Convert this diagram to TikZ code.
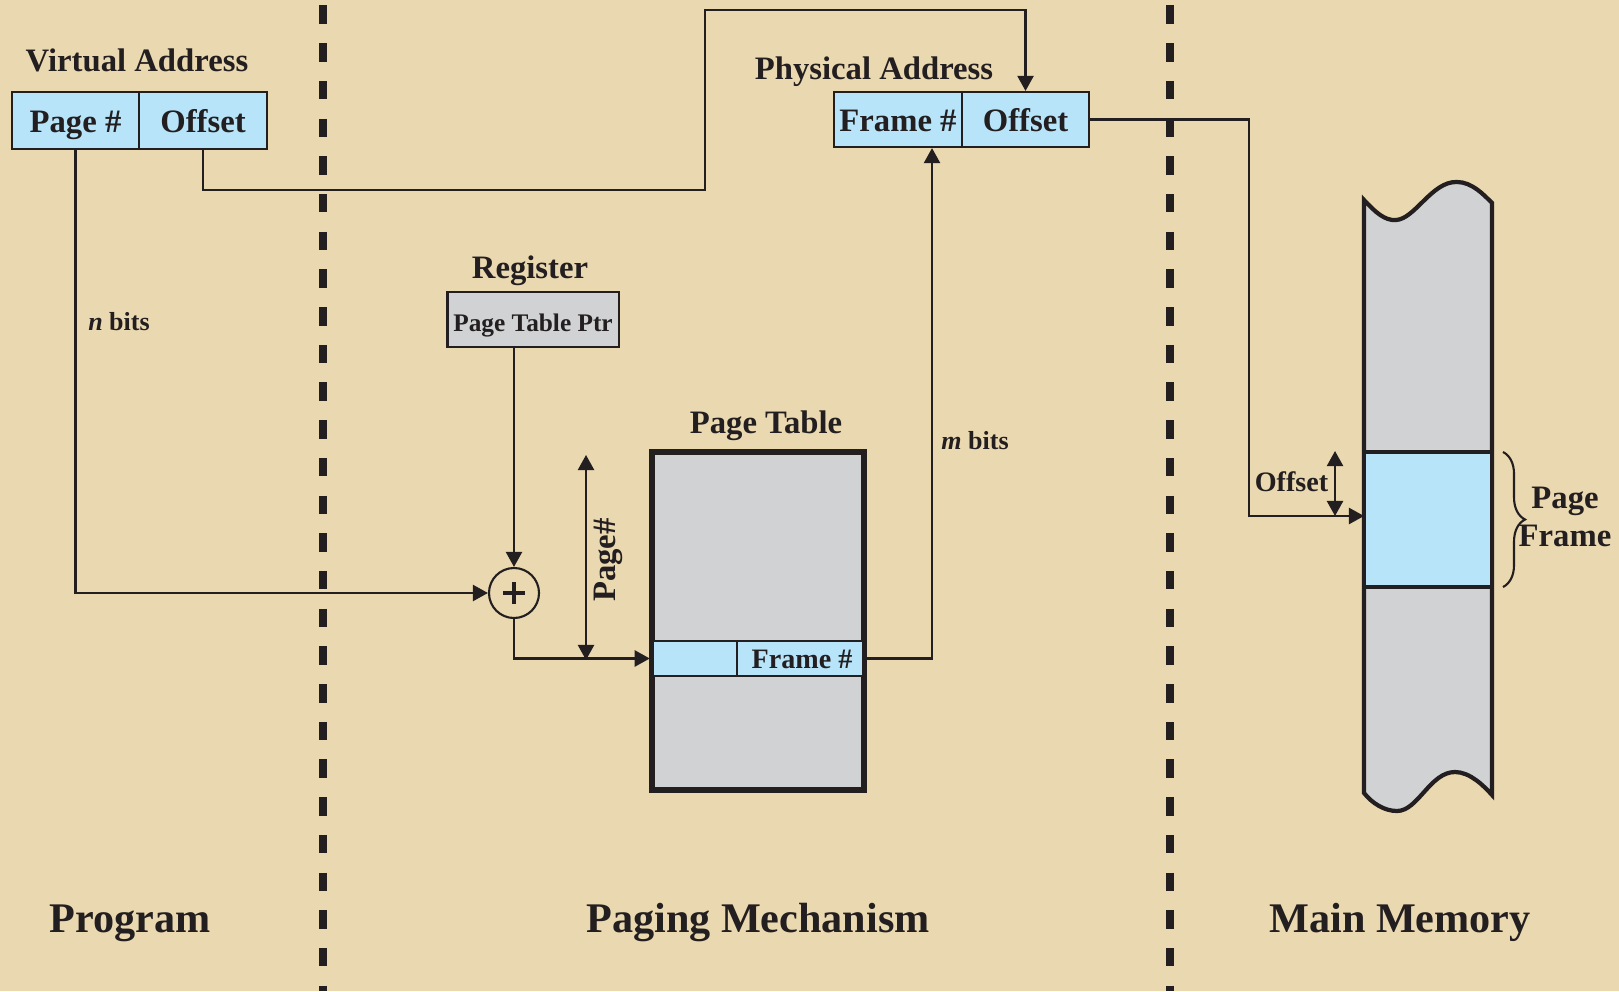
\documentclass[tikz,border=0pt]{standalone}
\usepackage{fontspec}
\setmainfont{Liberation Serif}
\usetikzlibrary{arrows.meta,decorations.pathreplacing,calc}
\definecolor{bg}{RGB}{234,216,176}
\definecolor{boxblue}{RGB}{183,228,249}
\definecolor{boxgray}{RGB}{209,210,212}
\definecolor{ink}{RGB}{35,31,32}
\begin{document}
\begin{tikzpicture}[x=0.01cm,y=-0.01cm,
  lbl/.style={font=\fontsize{9.3}{11}\selectfont\bfseries, text=ink, inner sep=0},
  small/.style={font=\fontsize{7.4}{9}\selectfont\bfseries, text=ink, inner sep=0},
  big/.style={font=\fontsize{12}{14}\selectfont\bfseries, text=ink, inner sep=0},
  fld/.style={draw=ink, fill=boxblue, line width=0.6pt, inner sep=0, text=ink,
              font=\fontsize{9.3}{11}\selectfont\bfseries, text height=0.66em, text depth=0pt},
  arr/.style={draw=ink, line width=0.6pt, -{Triangle[length=4.3pt,width=4.6pt]}},
  dbl/.style={draw=ink, line width=0.6pt, {Triangle[length=4.3pt,width=4.6pt]}-{Triangle[length=4.3pt,width=4.6pt]}},
  divider/.style={draw=ink, line width=2.3pt, dash pattern=on 5.26pt off 5.46pt},
  thick border/.style={draw=ink, line width=1.2pt}]
\useasboundingbox (0,0) rectangle (1619,991);
\fill[bg] (0,0) rectangle (1619,991);

% section dividers
\draw[divider] (323,5.5) -- (323,991);
\draw[divider] (1170,5.5) -- (1170,991);

% Virtual address
\node[lbl, anchor=base] (valbl) at (137,72) {Virtual Address};
\node[fld, minimum width=1.27cm, minimum height=0.57cm] (vpage) at (75.5,120.5) {Page \#};
\node[fld, minimum width=1.28cm, minimum height=0.57cm] (voff) at (203,120.5) {Offset};

% Physical address
\node[lbl, anchor=base] (palbl) at (874,80) {Physical Address};
\node[fld, minimum width=1.28cm, minimum height=0.55cm] (pframe) at (898,119.5) {Frame \#};
\node[fld, minimum width=1.27cm, minimum height=0.55cm] (poff) at (1025.5,119.5) {Offset};

% Register
\node[lbl, anchor=base] (reglbl) at (530,278) {Register};
\node[draw=ink, fill=boxgray, line width=0.6pt, inner sep=0, minimum width=1.71cm,
      minimum height=0.55cm, text=ink, font=\fontsize{7.2}{9}\selectfont\bfseries,
      text height=0.66em, text depth=0pt]
      (reg) at (533,319.5) {Page Table Ptr};

% adder
\node[circle, draw=ink, line width=0.6pt, minimum size=0.5cm, inner sep=0] (plus) at (514,593) {};
\draw[ink, line width=1.2pt] ($(plus.center)+(-11,0)$) -- ($(plus.center)+(11,0)$);
\draw[ink, line width=1.2pt] ($(plus.center)+(0,-11)$) -- ($(plus.center)+(0,11)$);

% Page table
\node[lbl, anchor=base] (ptlbl) at (766,433) {Page Table};
\node[thick border, fill=boxgray, minimum width=2.10cm, minimum height=3.36cm, inner sep=0] (ptab) at (758,621) {};
\node[draw=ink, fill=boxblue, line width=0.6pt, minimum width=2.10cm, minimum height=0.35cm, inner sep=0] (frow) at (758,658.5) {};
\draw[ink, line width=0.6pt] (737,641) -- (737,676);
\node[font=\fontsize{8}{10}\selectfont\bfseries, text=ink, inner sep=0, text height=0.66em, text depth=0pt] (frtxt) at (802,657) {Frame \#};
\draw[thick border] (ptab.south west) rectangle (ptab.north east);

% Main memory column
\draw[thick border, fill=boxgray]
  (1364,200) .. controls (1375,212) and (1385,221) .. (1396,220)
  .. controls (1415,219) and (1432,181) .. (1457,182)
  .. controls (1472,182) and (1484,195) .. (1492,203)
  -- (1492,795)
  .. controls (1484,786) and (1470,772) .. (1455,772)
  .. controls (1430,772) and (1418,811) .. (1397,811)
  .. controls (1384,811) and (1372,803) .. (1364,793) -- cycle;
\fill[boxblue] (1364,452) rectangle (1492,587);
\draw[thick border] (1364,452) -- (1492,452);
\draw[thick border] (1364,587) -- (1492,587);
\draw[thick border] (1364,440) -- (1364,600);
\draw[thick border] (1492,440) -- (1492,600);
\node[lbl, align=center] (pflbl) at (1565,517) {Page\\Frame};
\draw[ink, line width=0.6pt, decorate, decoration={brace, amplitude=0.22cm}] (1503,452) -- (1503,587);

% connectors
\coordinate (pin) at ($(pframe.south)+(34,0)$);
\coordinate (memin) at (1364,516);
\draw[arr] (vpage.south) |- (plus.west);
\draw[arr] (voff.south) |- (705,190) |- (1025.5,10) -- (poff.north);
\draw[arr] (plus.north |- reg.south) -- (plus.north);
\draw[arr, shorten >=0.6pt] (plus.south) |- (frow.west);
\draw[arr] (frow.east) -| (pin);
\draw[arr] (poff.east) -| (1249,516) -- (memin);

% dimension arrows
\coordinate (pgtop) at (586,455);
\coordinate (pgbot) at (586,660);
\draw[dbl] (pgtop) -- (pgbot);
\node[lbl, rotate=90] (pgnum) at (608,560) {Page\#};
\coordinate (oftop) at (1335,451);
\coordinate (ofbot) at (1335,516);
\draw[dbl] (oftop) -- (ofbot);
\node[font=\fontsize{8}{10}\selectfont\bfseries, text=ink, inner sep=0] (offlbl) at (1291.5,482) {Offset};

% bit labels
\node[small, anchor=base] (nbits) at (119,330) {\textit{n} bits};
\node[small, anchor=base] (mbits) at (975,449) {\textit{m} bits};

% section titles
\node[big, anchor=base] (prog) at (130,932) {Program};
\node[big, anchor=base] (pmech) at (758,932) {Paging Mechanism};
\node[big, anchor=base] (mmem) at (1400,932) {Main Memory};
\end{tikzpicture}
\end{document}
